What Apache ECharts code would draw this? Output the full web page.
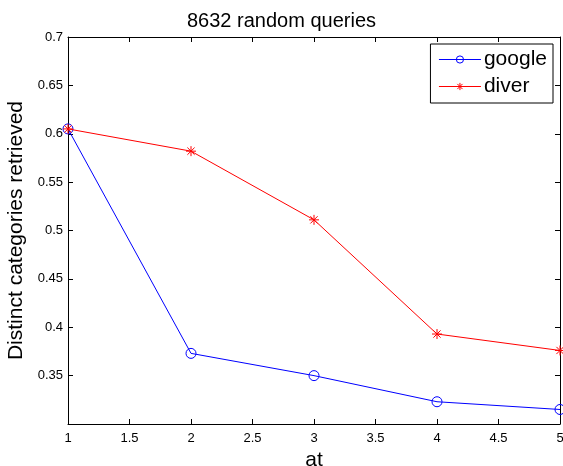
<!DOCTYPE html>
<html>
<head>
<meta charset="utf-8">
<script src="https://cdn.jsdelivr.net/npm/echarts@6/dist/echarts.min.js"></script>
<style>html,body{margin:0;padding:0;background:#fff;}#c{width:563px;height:466px;}</style>
</head>
<body>
<div id="c"></div>
<script>
const atValues = [1, 2, 3, 4, 5];
const googleValues = [0.605, 0.373, 0.350, 0.323, 0.315];
const diverValues = [0.605, 0.582, 0.511, 0.393, 0.376];
const seriesNames = ['google', 'diver'];
const titleText = '8632 random queries';
const xName = 'at';
const yName = 'Distinct categories retrieved';

const FONT = 'Liberation Sans';
const asterisk = 'path://M0,-5L0,5M-5,0L5,0M-3.6,-3.6L3.6,3.6M-3.6,3.6L3.6,-3.6';

const chart = echarts.init(document.getElementById('c'), null, {renderer: 'canvas'});
const axisBase = {
  axisLine: {show: true, onZero: false, lineStyle: {color: '#000', width: 1}},
  splitLine: {show: false}
};
chart.setOption({
  animation: false,
  backgroundColor: '#fff',
  textStyle: {fontFamily: FONT},
  title: {
    text: titleText, left: 'center', top: 6,
    textStyle: {fontFamily: FONT, fontSize: 20, fontWeight: 'normal', color: '#000'}
  },
  grid: {left: 68, right: 3, top: 37, bottom: 42, containLabel: false, outerBoundsMode: 'none'},
  legend: {
    orient: 'vertical', right: 10, top: 44,
    data: seriesNames,
    backgroundColor: '#fff', borderColor: '#000', borderWidth: 1,
    padding: [5, 6, 6, 8], itemGap: 6, itemWidth: 42, itemHeight: 9,
    lineStyle: {width: 1},
    itemStyle: {borderWidth: 1},
    textStyle: {fontFamily: FONT, fontSize: 21, color: '#000', padding: [0,0,0,-2]}
  },
  xAxis: [
    Object.assign({
      type: 'value', min: 1, max: 5, interval: 0.5, position: 'bottom',
      name: xName, nameLocation: 'middle', nameGap: 22,
      nameTextStyle: {fontFamily: FONT, fontSize: 21, color: '#000'},
      axisTick: {show: true, inside: true, length: 5, lineStyle: {color: '#000'}},
      axisLabel: {color: '#000', fontSize: 13, margin: 8, fontFamily: FONT}
    }, axisBase),
    Object.assign({
      type: 'value', min: 1, max: 5, interval: 0.5, position: 'top',
      axisTick: {show: true, inside: true, length: 5, lineStyle: {color: '#000'}},
      axisLabel: {show: false}
    }, axisBase)
  ],
  yAxis: [
    Object.assign({
      type: 'value', min: 0.3, max: 0.7, interval: 0.05, position: 'left',
      name: yName, nameLocation: 'middle', nameGap: 40, nameRotate: 90,
      nameTextStyle: {fontFamily: FONT, fontSize: 21, color: '#000'},
      axisTick: {show: true, inside: true, length: 5, lineStyle: {color: '#000'}},
      axisLabel: {color: '#000', fontSize: 13, margin: 5, fontFamily: FONT, showMinLabel: false,
        formatter: v => String(+v.toFixed(2))}
    }, axisBase),
    Object.assign({
      type: 'value', min: 0.3, max: 0.7, interval: 0.05, position: 'right',
      axisTick: {show: true, inside: true, length: 5, lineStyle: {color: '#000'}},
      axisLabel: {show: false}
    }, axisBase)
  ],
  series: [
    {
      name: seriesNames[0], type: 'line',
      data: atValues.map((x, i) => [x, googleValues[i]]),
      symbol: 'circle', symbolSize: 10,
      lineStyle: {color: '#0000ff', width: 1},
      itemStyle: {color: 'rgba(255,255,255,0)', borderColor: '#0000ff', borderWidth: 1},
      z: 3
    },
    {
      name: seriesNames[1], type: 'line',
      data: atValues.map((x, i) => [x, diverValues[i]]),
      symbol: asterisk, symbolSize: 10,
      lineStyle: {color: '#ff0000', width: 1},
      itemStyle: {color: '#ff0000', borderColor: '#ff0000', borderWidth: 1},
      z: 4
    }
  ]
});
</script>
</body>
</html>
